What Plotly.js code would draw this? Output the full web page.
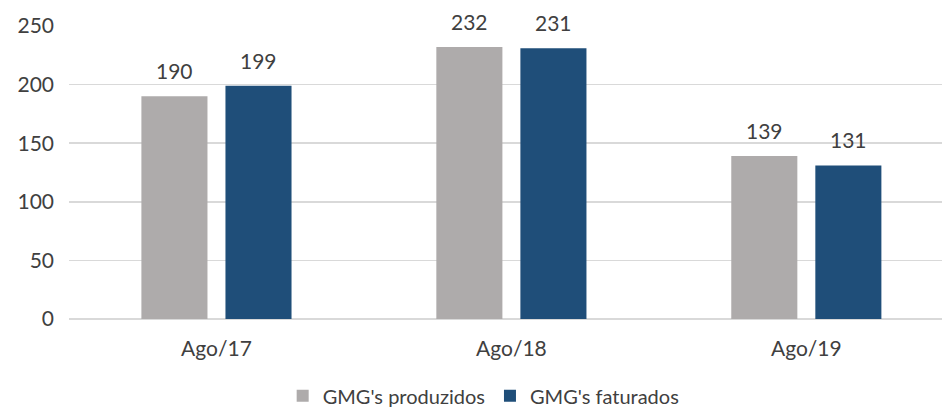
<!DOCTYPE html>
<html>
<head>
<meta charset="utf-8">
<script src="https://cdn.plot.ly/plotly-3.0.1.min.js"></script>
<style>html,body{margin:0;padding:0;background:#fff;}#chart{width:942px;height:411px;}</style>
</head>
<body>
<div id="chart"></div>
<script>
const categories = ["Ago/17", "Ago/18", "Ago/19"];
const seriesNames = ["GMG's produzidos", "GMG's faturados"];
const produzidos = [190, 232, 139];
const faturados = [199, 231, 131];
const yTicks = [0, 50, 100, 150, 200, 250];

const FONT = "Lato, Open Sans, sans-serif";
const TXT = "#404040";
const colors = ["#AEABAB", "#1F4E79"];

const traces = [produzidos, faturados].map((vals, i) => ({
  type: "bar",
  name: seriesNames[i],
  x: categories,
  y: vals,
  marker: {color: colors[i], line: {width: 0}},
  hoverinfo: "none"
}));

const annotations = [];
[produzidos, faturados].forEach((vals, i) => {
  vals.forEach((v, j) => {
    annotations.push({
      x: categories[j], y: v, xref: "x", yref: "y",
      text: String(v), showarrow: false,
      xanchor: "center", yanchor: "bottom",
      xshift: i === 0 ? -42 : 42, yshift: 11,
      font: {family: FONT, size: 21, color: TXT}
    });
  });
});

const layout = {
  width: 942, height: 411,
  margin: {l: 69, r: 0, t: 26, b: 92, autoexpand: false},
  paper_bgcolor: "#fff", plot_bgcolor: "#fff",
  barmode: "group", bargap: 0.43, bargroupgap: 0.214,
  font: {family: FONT, size: 21, color: TXT},
  showlegend: true,
  legend: {orientation: "h", x: 0.475, xanchor: "center", y: -0.262, yanchor: "middle",
           font: {family: FONT, size: 20, color: TXT}, itemwidth: 30, traceorder: "normal"},
  xaxis: {type: "category", range: [-0.5, 2.46], showgrid: false, showline: false, automargin: false,
          ticks: "", ticklabelstandoff: 15, tickfont: {family: FONT, size: 21, color: TXT}},
  yaxis: {range: [0, 250], tickvals: yTicks, ticktext: yTicks.map(String), automargin: false,
          showgrid: true, gridcolor: "#D9D9D9", gridwidth: 1.5,
          zeroline: true, zerolinecolor: "#D9D9D9", zerolinewidth: 1.5,
          showline: false, ticks: "", ticklabelstandoff: 14,
          tickfont: {family: FONT, size: 21, color: TXT}},
  annotations: annotations
};

Plotly.newPlot("chart", traces, layout, {displayModeBar: false, staticPlot: true});
</script>
</body>
</html>
